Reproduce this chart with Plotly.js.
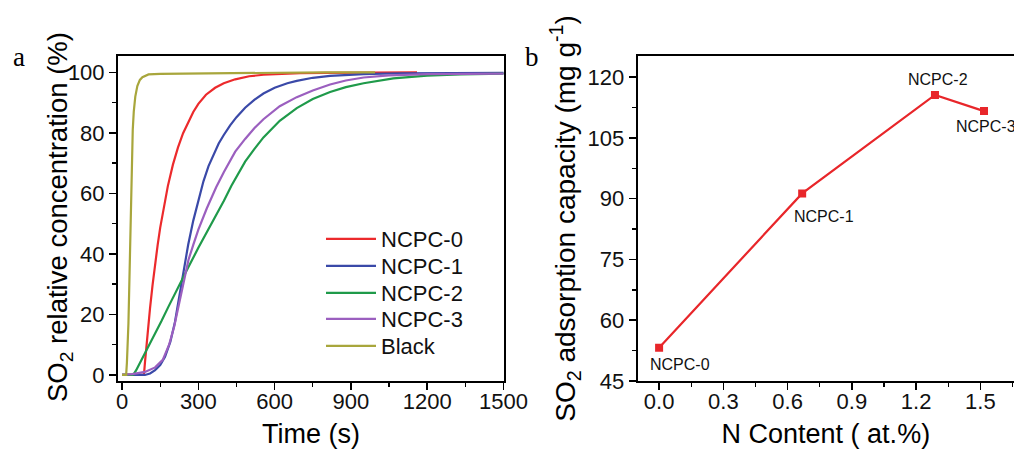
<!DOCTYPE html>
<html>
<head>
<meta charset="utf-8">
<script src="https://cdn.plot.ly/plotly-3.0.1.min.js"></script>
<style>html,body{margin:0;padding:0;background:#fff;}#chart{width:1014px;height:449px;}</style>
</head>
<body>
<div id="chart"></div>
<script>
// ---- Panel a: breakthrough curves (time in s, SO2 relative concentration in %) ----
const seriesNames = ['NCPC-0', 'NCPC-1', 'NCPC-2', 'NCPC-3', 'Black'];

const ncpc0_t = [0, 40, 86, 90, 95, 100, 105, 110, 120, 130, 140, 150, 165, 180, 200, 220, 240, 260, 280, 300, 330, 366, 400, 445, 500, 556, 620, 700, 800, 950, 1160];
const ncpc0_y = [0, 0, 0, 4.1, 8.9, 13.6, 18, 22.1, 29.8, 36.8, 43, 48.7, 56.1, 62.4, 69.5, 75.2, 79.9, 83.7, 86.9, 89.6, 92.6, 94.9, 96.4, 97.7, 98.7, 99.2, 99.5, 99.7, 99.8, 99.9, 100];

const ncpc1_t = [0, 90, 110, 130, 150, 169, 190, 208, 222, 235, 248, 260, 280, 300, 320, 340, 360, 380, 400, 425, 450, 484, 520, 556, 600, 650, 687, 750, 818, 900, 950, 1100, 1300, 1500];
const ncpc1_y = [0, 0, 0.5, 1.6, 3.3, 6, 11, 17.5, 24.5, 31, 37.5, 43, 51, 58, 64, 69, 73, 76.5, 79.3, 82.5, 85.2, 88.3, 90.9, 93, 94.9, 96.4, 97.2, 98.2, 98.8, 99.2, 99.4, 99.7, 99.8, 99.8];

const ncpc2_t = [0, 44, 55, 77, 100, 130, 155, 182, 208, 235, 260, 300, 333, 366, 400, 430, 451, 484, 520, 556, 620, 687, 750, 818, 880, 950, 1067, 1199, 1330, 1500];
const ncpc2_y = [0, 0, 1.5, 5, 9, 13.7, 17.8, 22.5, 27, 31.5, 35.5, 42, 47, 52, 57.5, 62.5, 65.8, 70.5, 74.6, 78.5, 84, 88.2, 91.2, 93.5, 95.1, 96.4, 98, 98.9, 99.3, 99.6];

const ncpc3_t = [0, 40, 90, 130, 160, 185, 205, 225, 245, 261, 280, 300, 333, 370, 400, 425, 445, 484, 520, 556, 620, 687, 750, 818, 880, 950, 1050, 1200, 1350, 1500];
const ncpc3_y = [0, 0.3, 1, 2.5, 5, 10, 16, 24, 32.5, 38, 43, 48, 55, 62, 67, 71, 73.8, 78, 81.5, 84.5, 88.8, 91.8, 94, 96, 97.3, 98.3, 99, 99.4, 99.6, 99.6];

const black_t = [0, 16, 19, 22, 25, 28, 31, 35, 38, 42, 46, 52, 60, 70, 80, 104, 150, 250, 400, 600, 800, 995];
const black_y = [0, 0, 4, 10, 17, 28, 40, 57, 72, 81, 87, 92, 95.5, 97.5, 98.4, 99.3, 99.5, 99.6, 99.8, 99.9, 100, 100];

// ---- Panel b: SO2 adsorption capacity vs N content ----
const nContent = [0, 0.668, 1.288, 1.517];
const capacity = [53.2, 91.3, 115.6, 111.6];
const pointLabels = ['NCPC-0', 'NCPC-1', 'NCPC-2', 'NCPC-3'];

const colors = ['#ec2a2c', '#3a49a8', '#1f9a4a', '#9b5fbf', '#a8a63c'];
const ts = [ncpc0_t, ncpc1_t, ncpc2_t, ncpc3_t, black_t];
const ys = [ncpc0_y, ncpc1_y, ncpc2_y, ncpc3_y, black_y];

const FONT = 'Liberation Sans, Arial, sans-serif';
const legendIds = ['legend', 'legend2', 'legend3', 'legend4', 'legend5'];
const legendRowPx = [239, 266, 293, 319, 346];

const traces = seriesNames.map((n, i) => ({
  x: ts[i], y: ys[i], name: n, type: 'scatter', mode: 'lines',
  line: {color: colors[i], width: 2.2},
  xaxis: 'x', yaxis: 'y', legend: legendIds[i]
}));

traces.push({
  x: nContent, y: capacity, type: 'scatter', mode: 'lines+markers',
  line: {color: '#e8262a', width: 2.2},
  marker: {symbol: 'square', size: 8, color: '#e8262a'},
  xaxis: 'x2', yaxis: 'y2', showlegend: false
});

const labelShift = [[21, -17], [22, -23], [3, 15], [2, -15]];
const annotations = pointLabels.map((t, i) => ({
  x: nContent[i], y: capacity[i], xref: 'x2', yref: 'y2', text: t, showarrow: false,
  xshift: labelShift[i][0], yshift: labelShift[i][1],
  font: {family: FONT, size: 16, color: '#111'}
}));
const px2x = p => (p - 118) / 896;
const px2y = p => (381 - p) / 325;
annotations.push({xref: 'paper', yref: 'paper', x: px2x(18.5), y: px2y(57), xanchor: 'center', yanchor: 'middle',
  text: 'a', showarrow: false, font: {family: 'Liberation Serif, Times New Roman, serif', size: 27, color: '#000'}});
annotations.push({xref: 'paper', yref: 'paper', x: px2x(531.5), y: px2y(57), xanchor: 'center', yanchor: 'middle',
  text: 'b', showarrow: false, font: {family: 'Liberation Serif, Times New Roman, serif', size: 27, color: '#000'}});
annotations.push({xref: 'paper', yref: 'paper', x: px2x(59), y: px2y(217), xanchor: 'center', yanchor: 'middle',
  textangle: -90, text: 'SO<sub>2</sub> relative concentration (%)', showarrow: false,
  font: {family: FONT, size: 27.5, color: '#000'}});

const axCommon = {
  showline: true, linecolor: '#000', linewidth: 2, mirror: true,
  ticks: 'outside', ticklen: 7, tickwidth: 1.6, tickcolor: '#000',
  showgrid: false, zeroline: false,
  tickfont: {family: FONT, size: 22, color: '#111'}
};

const layout = {
  width: 1014, height: 449,
  margin: {l: 118, r: 0, t: 56, b: 68},
  paper_bgcolor: '#fff', plot_bgcolor: '#fff',
  font: {family: FONT, color: '#000'},
  showlegend: true,
  xaxis: Object.assign({}, axCommon, {
    domain: [0, 0.4308], range: [-16, 1502], tickvals: [0, 300, 600, 900, 1200, 1500],
    ticklabelstandoff: -7,
    minor: {dtick: 150, tick0: 0, ticklen: 4, tickwidth: 1.4, tickcolor: '#000', ticks: 'outside'},
    title: {text: 'Time (s)', font: {family: FONT, size: 27, color: '#000'}, standoff: 13}
  }),
  yaxis: Object.assign({}, axCommon, {
    domain: [0, 1], range: [-2, 105.4], tickvals: [0, 20, 40, 60, 80, 100],
    minor: {dtick: 10, tick0: 0, ticklen: 4, tickwidth: 1.4, tickcolor: '#000', ticks: 'outside'}
  }),
  xaxis2: Object.assign({}, axCommon, {
    anchor: 'y2', domain: [0.58, 1], range: [-0.1, 1.657], tickvals: [0, 0.3, 0.6, 0.9, 1.2, 1.5],
    ticktext: ['0.0', '0.3', '0.6', '0.9', '1.2', '1.5'], ticklabelstandoff: -7,
    minor: {dtick: 0.15, tick0: 0, ticklen: 4, tickwidth: 1.4, tickcolor: '#000', ticks: 'outside'},
    title: {text: 'N Content ( at.%)', font: {family: FONT, size: 27, color: '#000'}, standoff: 13}
  }),
  yaxis2: Object.assign({}, axCommon, {
    anchor: 'x2', domain: [0, 1], range: [45, 125.2], mirror: false, tickvals: [45, 60, 75, 90, 105, 120],
    minor: {dtick: 7.5, tick0: 45, ticklen: 4, tickwidth: 1.4, tickcolor: '#000', ticks: 'outside'},
    title: {text: 'SO<sub>2</sub> adsorption capacity (mg g<sup>-1</sup>)', font: {family: FONT, size: 28, color: '#000'}, standoff: 4}
  }),
  annotations: annotations
};

legendIds.forEach((id, i) => {
  layout[id] = {x: px2x(321), y: px2y(legendRowPx[i]), xanchor: 'left', yanchor: 'middle',
    bgcolor: 'rgba(0,0,0,0)', borderwidth: 0, itemwidth: 50,
    font: {family: FONT, size: 22, color: '#111'}};
});

Plotly.newPlot('chart', traces, layout, {displayModeBar: false, staticPlot: true});
</script>
</body>
</html>
